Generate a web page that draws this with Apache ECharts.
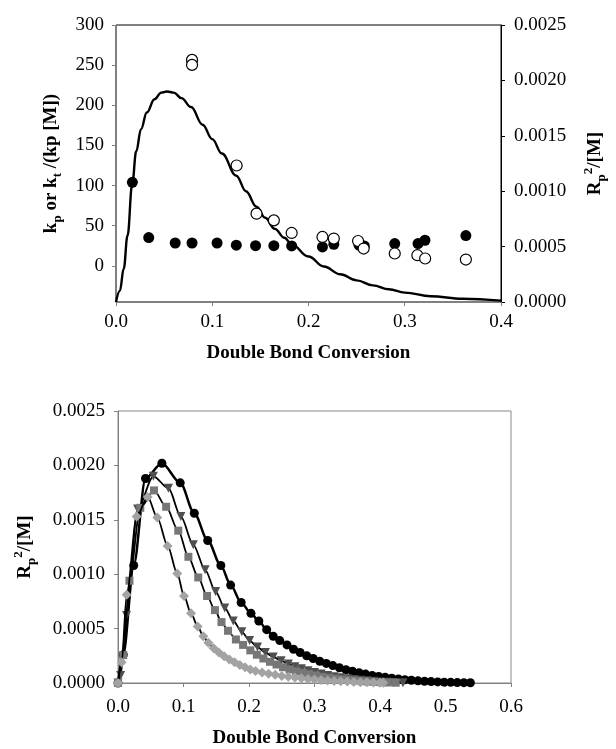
<!DOCTYPE html>
<html>
<head>
<meta charset="utf-8">
<script src="https://cdn.jsdelivr.net/npm/echarts@6/dist/echarts.min.js"></script>
<style>
html, body { margin: 0; background: #fff; }
#chart { width: 616px; height: 749px; }
</style>
</head>
<body>
<div id="chart"></div>
<script>
// top panel: kp (filled) and kt/(kp[M]) (open) on the left axis, Rp^2/[M] curve on the right axis
const filledX = [0.017, 0.034, 0.0615, 0.079, 0.105, 0.125, 0.145, 0.164, 0.1825, 0.2145, 0.2263, 0.2525, 0.258, 0.2896, 0.3138, 0.321, 0.3635]
const filledY = [104, 35.2, 28.5, 28.5, 28.5, 25.7, 25.2, 25.2, 24.8, 23.6, 26.9, 25.7, 24.8, 27.8, 27.8, 31.9, 37.7]
const openX = [0.079, 0.079, 0.1253, 0.146, 0.164, 0.1825, 0.2145, 0.2263, 0.2515, 0.2573, 0.2896, 0.3131, 0.3212, 0.3635]
const openY = [256.5, 250.3, 125, 65, 56.7, 41, 36, 34, 31, 21.6, 15.4, 13.3, 9.2, 7.9]
const curveX = [0, 0.004, 0.008, 0.012, 0.0168, 0.021, 0.026, 0.032, 0.04, 0.047, 0.0528, 0.06, 0.068, 0.078, 0.09, 0.1, 0.11, 0.125, 0.135, 0.146, 0.155, 0.165, 0.175, 0.1825, 0.2, 0.216, 0.233, 0.25, 0.267, 0.2835, 0.3, 0.327, 0.36, 0.4]
const curveY = [0, 0.0001, 0.0003, 0.0006, 0.00106, 0.00136, 0.00156, 0.00171, 0.00183, 0.00189, 0.0019, 0.00189, 0.00184, 0.00176, 0.0016, 0.00147, 0.00134, 0.00114, 0.001, 0.00086, 0.00076, 0.00066, 0.00058, 0.00052, 0.00041, 0.00032, 0.00025, 0.000195, 0.00015, 0.000115, 0.000085, 0.000052, 0.00003, 0.000012]

// bottom panel: four Rp^2/[M] profiles
const aX = [0, 0.008, 0.024, 0.042, 0.067, 0.095, 0.1165, 0.137, 0.157, 0.172, 0.188, 0.203, 0.215, 0.227, 0.237, 0.247, 0.258, 0.268, 0.278, 0.288, 0.298, 0.308, 0.318, 0.328, 0.338, 0.348, 0.358, 0.368, 0.378, 0.388, 0.398, 0.408, 0.418, 0.428, 0.438, 0.448, 0.458, 0.468, 0.478, 0.488, 0.498, 0.508, 0.518, 0.528, 0.538]
const aY = [0, 0.00026, 0.00108, 0.00188, 0.00202, 0.00184, 0.00156, 0.00131, 0.00108, 0.0009, 0.00074, 0.00064, 0.00057, 0.00049, 0.00043, 0.00039, 0.00035, 0.00031, 0.00028, 0.00025, 0.000225, 0.0002, 0.00018, 0.00016, 0.00014, 0.000122, 0.000108, 0.000094, 0.000082, 0.00007, 0.00006, 0.000052, 0.000044, 0.000037, 0.00003, 0.000025, 0.00002, 0.000016, 0.000013, 0.00001, 0.000008, 0.000006, 0.000004, 0.000003, 0.000002]
const bX = [0, 0.004, 0.013, 0.03, 0.054, 0.077, 0.096, 0.115, 0.133, 0.149, 0.163, 0.176, 0.189, 0.201, 0.213, 0.225, 0.237, 0.249, 0.26, 0.27, 0.28, 0.29, 0.3, 0.31, 0.32, 0.33, 0.34, 0.35, 0.36, 0.37, 0.38, 0.39, 0.4, 0.41, 0.42, 0.435]
const bY = [0, 0.00007, 0.00062, 0.0016, 0.0019, 0.00179, 0.00153, 0.00127, 0.00104, 0.00084, 0.00069, 0.00057, 0.00047, 0.00039, 0.00033, 0.00028, 0.00024, 0.000205, 0.000175, 0.00015, 0.00013, 0.000112, 0.000096, 0.000082, 0.00007, 0.000058, 0.000048, 0.00004, 0.000033, 0.000026, 0.00002, 0.000015, 0.00001, 0.000007, 0.000004, 0.000002]
const cX = [0, 0.008, 0.0175, 0.034, 0.055, 0.0735, 0.092, 0.1075, 0.1225, 0.136, 0.148, 0.158, 0.168, 0.18, 0.191, 0.202, 0.212, 0.222, 0.232, 0.242, 0.252, 0.262, 0.272, 0.282, 0.292, 0.302, 0.312, 0.322, 0.332, 0.342, 0.352, 0.362, 0.372, 0.382, 0.392, 0.402, 0.412, 0.424]
const cY = [0, 0.000256, 0.00094, 0.00161, 0.00177, 0.00162, 0.0014, 0.00116, 0.00097, 0.0008, 0.00067, 0.00056, 0.00048, 0.0004, 0.00035, 0.0003, 0.00026, 0.000225, 0.000195, 0.00017, 0.000145, 0.000125, 0.000108, 0.000093, 0.00008, 0.000068, 0.000057, 0.000048, 0.00004, 0.000033, 0.000027, 0.000022, 0.000017, 0.000013, 0.00001, 0.000007, 0.000005, 0.000003]
const dX = [0, 0.0056, 0.0133, 0.0285, 0.0453, 0.06, 0.0758, 0.0905, 0.1008, 0.1115, 0.1217, 0.1303, 0.138, 0.146, 0.154, 0.162, 0.17, 0.178, 0.186, 0.194, 0.202, 0.21, 0.22, 0.23, 0.24, 0.25, 0.26, 0.27, 0.28, 0.29, 0.3, 0.31, 0.32, 0.33, 0.34, 0.35, 0.36, 0.37, 0.38, 0.39, 0.4, 0.405]
const dY = [0, 0.00019, 0.00081, 0.00153, 0.00171, 0.00152, 0.00126, 0.001006, 0.0008, 0.00064, 0.00052, 0.00043, 0.00037, 0.00032, 0.00028, 0.000245, 0.000215, 0.00019, 0.000165, 0.000145, 0.000125, 0.00011, 0.000097, 0.000085, 0.000075, 0.000065, 0.000057, 0.00005, 0.000043, 0.000037, 0.000032, 0.000027, 0.000023, 0.000019, 0.000016, 0.000013, 0.00001, 0.000008, 0.000006, 0.000004, 0.000003, 0.000002]

const leftTicks = [0, 50, 100, 150, 200, 250, 300]

const zip = (xs, ys) => xs.map((x, i) => [x, ys[i]])
const font = 'Liberation Serif'
const fs = 19

const richName = {
  m: { fontFamily: font, fontSize: fs, fontWeight: 'bold', color: '#000', lineHeight: 26, verticalAlign: 'middle' },
  s: { fontFamily: font, fontSize: 13, fontWeight: 'bold', color: '#000', lineHeight: 26, verticalAlign: 'bottom' },
  u: { fontFamily: font, fontSize: 13, fontWeight: 'bold', color: '#000', lineHeight: 26, verticalAlign: 'top' }
}
const rpName = '{m|R}{s|p}{u|2}{m|/[M]}'

const axisLine = c => ({ show: true, onZero: false, lineStyle: { color: c, width: 1 } })
const tick = c => ({ show: true, length: 4, lineStyle: { color: c } })
const label = (fmt, margin) => ({ fontFamily: font, fontSize: fs, color: '#000', margin: margin, formatter: fmt })
const xName = gap => ({
  name: 'Double Bond Conversion',
  nameLocation: 'middle',
  nameGap: gap,
  nameTextStyle: { fontFamily: font, fontSize: fs, fontWeight: 'bold', color: '#000' }
})

let chart = echarts.init(document.getElementById('chart'))
const option = {
  animation: false,
  grid: [
    { left: 116, top: 25, width: 396, height: 277, show: true, borderColor: '#000', borderWidth: 1 },
    { left: 118, top: 411, width: 393, height: 273, show: true, borderColor: '#888', borderWidth: 1 }
  ],
  xAxis: [
    Object.assign({
      gridIndex: 0, type: 'value', min: 0, max: 0.4, interval: 0.1,
      axisLine: axisLine('#808080'), axisTick: tick('#808080'),
      axisLabel: label(v => v.toFixed(1), 11), splitLine: { show: false }
    }, xName(42)),
    Object.assign({
      gridIndex: 1, type: 'value', min: 0, max: 0.6, interval: 0.1,
      axisLine: axisLine('#808080'), axisTick: tick('#808080'),
      axisLabel: label(v => v.toFixed(1), 15), splitLine: { show: false }
    }, xName(46))
  ],
  yAxis: [
    {
      gridIndex: 0, type: 'value', min: -45, max: 300,
      axisLine: axisLine('#808080'),
      axisTick: Object.assign(tick('#808080'), { customValues: leftTicks }),
      axisLabel: Object.assign(label(v => String(v), 12), { customValues: leftTicks }),
      splitLine: { show: false },
      name: '{m|k}{s|p}{m| or k}{s|t}{m| /(kp [M])}',
      nameLocation: 'middle', nameRotate: 90, nameGap: 52,
      nameTextStyle: { rich: richName }
    },
    {
      gridIndex: 0, type: 'value', position: 'right', min: 0, max: 0.0025, interval: 0.0005,
      axisLine: axisLine('#000'), axisTick: tick('#000'),
      axisLabel: label(v => v.toFixed(4), 13), splitLine: { show: false },
      name: rpName, nameLocation: 'middle', nameRotate: 90, nameGap: 81,
      nameTextStyle: { rich: richName }
    },
    {
      gridIndex: 1, type: 'value', min: 0, max: 0.0025, interval: 0.0005,
      axisLine: axisLine('#808080'), axisTick: tick('#808080'),
      axisLabel: label(v => v.toFixed(4), 13), splitLine: { show: false },
      name: rpName, nameLocation: 'middle', nameRotate: 90, nameGap: 80,
      nameTextStyle: { rich: richName }
    }
  ],
  series: [
    {
      type: 'line', xAxisIndex: 0, yAxisIndex: 1, data: zip(curveX, curveY),
      showSymbol: false, smooth: 0.4, smoothMonotone: 'x',
      lineStyle: { color: '#000', width: 2.4 }, z: 2
    },
    {
      type: 'scatter', xAxisIndex: 0, yAxisIndex: 0, data: zip(filledX, filledY),
      symbol: 'circle', symbolSize: 11, itemStyle: { color: '#000', opacity: 1 }, z: 3
    },
    {
      type: 'scatter', xAxisIndex: 0, yAxisIndex: 0, data: zip(openX, openY),
      symbol: 'circle', symbolSize: 11,
      itemStyle: { color: '#fff', borderColor: '#000', borderWidth: 1.2, opacity: 1 }, z: 4
    },
    {
      type: 'line', xAxisIndex: 1, yAxisIndex: 2, data: zip(aX, aY),
      symbol: 'circle', symbolSize: 9, smooth: 0.3, smoothMonotone: 'x',
      itemStyle: { color: '#000' }, lineStyle: { color: '#000', width: 2.5 }, z: 2
    },
    {
      type: 'line', xAxisIndex: 1, yAxisIndex: 2, data: zip(bX, bY),
      symbol: 'triangle', symbolRotate: 180, symbolSize: 9, smooth: 0.3, smoothMonotone: 'x',
      itemStyle: { color: '#4f4f4f' }, lineStyle: { color: '#000', width: 1.8 }, z: 3
    },
    {
      type: 'line', xAxisIndex: 1, yAxisIndex: 2, data: zip(cX, cY),
      symbol: 'rect', symbolSize: 8, smooth: 0.3, smoothMonotone: 'x',
      itemStyle: { color: '#777' }, lineStyle: { color: '#000', width: 1.8 }, z: 4
    },
    {
      type: 'line', xAxisIndex: 1, yAxisIndex: 2, data: zip(dX, dY),
      symbol: 'diamond', symbolSize: 10, smooth: 0.3, smoothMonotone: 'x',
      itemStyle: { color: '#a3a3a3' }, lineStyle: { color: '#000', width: 1.8 }, z: 5
    }
  ]
}
chart.setOption(option)
window.addEventListener('resize', () => chart.resize())
</script>
</body>
</html>
